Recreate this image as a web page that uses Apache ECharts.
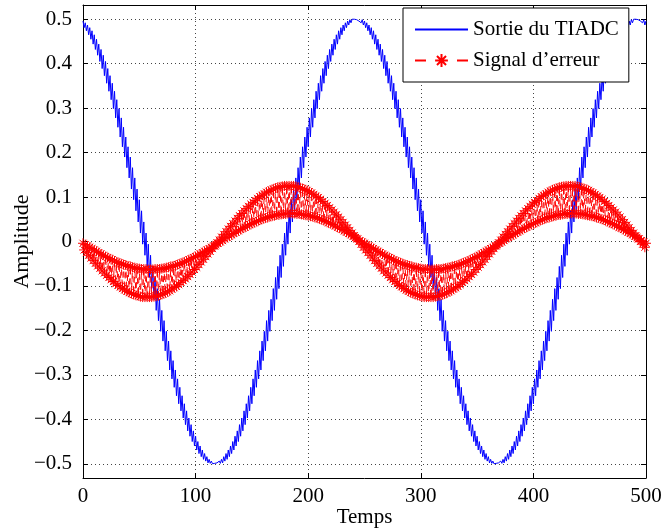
<!DOCTYPE html>
<html><head><meta charset="utf-8">
<script src="https://cdn.jsdelivr.net/npm/echarts@6/dist/echarts.min.js"></script>
<style>html,body{margin:0;padding:0;background:#fff}#c{width:662px;height:532px}</style>
</head><body><div id="c"></div>
<script>
// Axis ticks
const xTicks = [0, 100, 200, 300, 400, 500];
const yTicks = [-0.5, -0.4, -0.3, -0.2, -0.1, 0, 0.1, 0.2, 0.3, 0.4, 0.5];
const seriesNames = ['Sortie du TIADC', 'Signal d\u2019erreur'];
const axisNames = { x: 'Temps', y: 'Amplitude' };

// Sortie du TIADC, samples 0..500
const tiadc = [
.496,.481,.492,.474,.487,.465,.481,.455,.474,.444,
.465,.432,.455,.419,.444,.405,.432,.389,.419,.373,
.405,.356,.389,.338,.373,.319,.356,.299,.338,.278,
.319,.257,.299,.235,.278,.213,.257,.190,.235,.166,
.213,.143,.190,.118,.166,.094,.143,.069,.118,.044,
.094,.019,.069,-.006,.044,-.031,.019,-.056,-.006,-.081,
-.031,-.106,-.056,-.130,-.081,-.155,-.106,-.178,-.130,-.202,
-.155,-.224,-.178,-.246,-.202,-.268,-.224,-.289,-.246,-.309,
-.268,-.328,-.289,-.347,-.309,-.365,-.328,-.381,-.347,-.397,
-.365,-.412,-.381,-.426,-.397,-.438,-.412,-.450,-.426,-.460,
-.438,-.469,-.450,-.477,-.460,-.484,-.469,-.490,-.477,-.494,
-.484,-.498,-.490,-.499,-.494,-.500,-.498,-.499,-.499,-.498,
-.500,-.494,-.499,-.490,-.498,-.484,-.494,-.477,-.490,-.469,
-.484,-.460,-.477,-.450,-.469,-.438,-.460,-.426,-.450,-.412,
-.438,-.397,-.426,-.381,-.412,-.365,-.397,-.347,-.381,-.328,
-.365,-.309,-.347,-.289,-.328,-.268,-.309,-.246,-.289,-.224,
-.268,-.202,-.246,-.178,-.224,-.155,-.202,-.130,-.178,-.106,
-.155,-.081,-.130,-.056,-.106,-.031,-.081,-.006,-.056,.019,
-.031,.044,-.006,.069,.019,.094,.044,.118,.069,.143,
.094,.166,.118,.190,.143,.213,.166,.235,.190,.257,
.213,.278,.235,.299,.257,.319,.278,.338,.299,.356,
.319,.373,.338,.389,.356,.405,.373,.419,.389,.432,
.405,.444,.419,.455,.432,.465,.444,.474,.455,.481,
.465,.487,.474,.492,.481,.496,.487,.499,.492,.500,
.496,.500,.499,.499,.500,.496,.500,.492,.499,.487,
.496,.481,.492,.474,.487,.465,.481,.455,.474,.444,
.465,.432,.455,.419,.444,.405,.432,.389,.419,.373,
.405,.356,.389,.338,.373,.319,.356,.299,.338,.278,
.319,.257,.299,.235,.278,.213,.257,.190,.235,.166,
.213,.143,.190,.118,.166,.094,.143,.069,.118,.044,
.094,.019,.069,-.006,.044,-.031,.019,-.056,-.006,-.081,
-.031,-.106,-.056,-.130,-.081,-.155,-.106,-.178,-.130,-.202,
-.155,-.224,-.178,-.246,-.202,-.268,-.224,-.289,-.246,-.309,
-.268,-.328,-.289,-.347,-.309,-.365,-.328,-.381,-.347,-.397,
-.365,-.412,-.381,-.426,-.397,-.438,-.412,-.450,-.426,-.460,
-.438,-.469,-.450,-.477,-.460,-.484,-.469,-.490,-.477,-.494,
-.484,-.498,-.490,-.499,-.494,-.500,-.498,-.499,-.499,-.498,
-.500,-.494,-.499,-.490,-.498,-.484,-.494,-.477,-.490,-.469,
-.484,-.460,-.477,-.450,-.469,-.438,-.460,-.426,-.450,-.412,
-.438,-.397,-.426,-.381,-.412,-.365,-.397,-.347,-.381,-.328,
-.365,-.309,-.347,-.289,-.328,-.268,-.309,-.246,-.289,-.224,
-.268,-.202,-.246,-.178,-.224,-.155,-.202,-.130,-.178,-.106,
-.155,-.081,-.130,-.056,-.106,-.031,-.081,-.006,-.056,.019,
-.031,.044,-.006,.069,.019,.094,.044,.118,.069,.143,
.094,.166,.118,.190,.143,.213,.166,.235,.190,.257,
.213,.278,.235,.299,.257,.319,.278,.338,.299,.356,
.319,.373,.338,.389,.356,.405,.373,.419,.389,.432,
.405,.444,.419,.455,.432,.465,.444,.474,.455,.481,
.465,.487,.474,.492,.481,.496,.487,.499,.492,.500,
.496,.500,.499,.499,.500,.496,.500,.492,.499,.487,
.496
];

// Signal d'erreur, samples 0..500
const erreur = [
-.004,-.019,-.007,-.025,-.010,-.031,-.013,-.037,-.016,-.043,
-.019,-.049,-.022,-.055,-.025,-.060,-.028,-.066,-.031,-.071,
-.034,-.076,-.036,-.081,-.039,-.086,-.041,-.090,-.044,-.095,
-.046,-.099,-.048,-.102,-.050,-.106,-.052,-.109,-.053,-.112,
-.055,-.115,-.056,-.117,-.058,-.119,-.059,-.121,-.060,-.122,
-.061,-.124,-.062,-.125,-.062,-.125,-.062,-.125,-.063,-.125,
-.063,-.125,-.063,-.124,-.062,-.123,-.062,-.122,-.062,-.120,
-.061,-.118,-.060,-.116,-.059,-.113,-.058,-.111,-.056,-.107,
-.055,-.104,-.054,-.101,-.052,-.097,-.050,-.092,-.048,-.088,
-.046,-.084,-.044,-.079,-.041,-.074,-.039,-.069,-.036,-.063,
-.034,-.058,-.031,-.052,-.028,-.046,-.025,-.040,-.022,-.034,
-.019,-.028,-.016,-.022,-.013,-.016,-.010,-.010,-.007,-.003,
-.004,.003,-.001,.010,.002,.016,.006,.022,.009,.028,
.012,.034,.015,.040,.018,.046,.021,.052,.024,.058,
.027,.063,.030,.069,.032,.074,.035,.079,.038,.084,
.040,.088,.042,.092,.045,.097,.047,.101,.049,.104,
.051,.107,.053,.111,.054,.113,.056,.116,.057,.118,
.058,.120,.060,.122,.060,.123,.061,.124,.062,.125,
.062,.125,.063,.125,.063,.125,.063,.125,.063,.124,
.062,.122,.062,.121,.061,.119,.060,.117,.059,.115,
.058,.112,.057,.109,.056,.106,.054,.102,.053,.099,
.051,.095,.049,.090,.047,.086,.045,.081,.042,.076,
.040,.071,.038,.066,.035,.060,.032,.055,.030,.049,
.027,.043,.024,.037,.021,.031,.018,.025,.015,.019,
.012,.013,.009,.006,.006,.000,.002,-.006,-.001,-.013,
-.004,-.019,-.007,-.025,-.010,-.031,-.013,-.037,-.016,-.043,
-.019,-.049,-.022,-.055,-.025,-.060,-.028,-.066,-.031,-.071,
-.034,-.076,-.036,-.081,-.039,-.086,-.041,-.090,-.044,-.095,
-.046,-.099,-.048,-.102,-.050,-.106,-.052,-.109,-.053,-.112,
-.055,-.115,-.056,-.117,-.058,-.119,-.059,-.121,-.060,-.122,
-.061,-.124,-.062,-.125,-.062,-.125,-.062,-.125,-.063,-.125,
-.063,-.125,-.063,-.124,-.062,-.123,-.062,-.122,-.062,-.120,
-.061,-.118,-.060,-.116,-.059,-.113,-.058,-.111,-.056,-.107,
-.055,-.104,-.054,-.101,-.052,-.097,-.050,-.092,-.048,-.088,
-.046,-.084,-.044,-.079,-.041,-.074,-.039,-.069,-.036,-.063,
-.034,-.058,-.031,-.052,-.028,-.046,-.025,-.040,-.022,-.034,
-.019,-.028,-.016,-.022,-.013,-.016,-.010,-.010,-.007,-.003,
-.004,.003,-.001,.010,.002,.016,.006,.022,.009,.028,
.012,.034,.015,.040,.018,.046,.021,.052,.024,.058,
.027,.063,.030,.069,.032,.074,.035,.079,.038,.084,
.040,.088,.042,.092,.045,.097,.047,.101,.049,.104,
.051,.107,.053,.111,.054,.113,.056,.116,.057,.118,
.058,.120,.060,.122,.060,.123,.061,.124,.062,.125,
.062,.125,.063,.125,.063,.125,.063,.125,.063,.124,
.062,.122,.062,.121,.061,.119,.060,.117,.059,.115,
.058,.112,.057,.109,.056,.106,.054,.102,.053,.099,
.051,.095,.049,.090,.047,.086,.045,.081,.042,.076,
.040,.071,.038,.066,.035,.060,.032,.055,.030,.049,
.027,.043,.024,.037,.021,.031,.018,.025,.015,.019,
.012,.013,.009,.006,.006,.000,.002,-.006,-.001,-.013,
-.004
];

const FONT = '"Liberation Serif", "Times New Roman", serif';
const FS = 21;
const STAR = 'path://M5,0L5,10M0,5L10,5M1.46,1.46L8.54,8.54M1.46,8.54L8.54,1.46';
const gridLine = { show: true, lineStyle: { color: '#444', type: [1, 3], width: 1 } };
const fmtY = v => (Math.abs(v) < 1e-9 ? '0' : v.toFixed(1).replace('-', '\u2212'));
const frameLine = { show: true, onZero: false, lineStyle: { color: '#000', width: 1 } };

const chart = echarts.init(document.getElementById('c'), null, { renderer: 'canvas' });
chart.setOption({
  animation: false,
  backgroundColor: '#fff',
  grid: { left: 83, right: 16, top: 5, bottom: 54, containLabel: false, outerBoundsMode: 'none' },
  xAxis: [
    {
      type: 'value', min: xTicks[0], max: xTicks[xTicks.length - 1], interval: 100,
      position: 'bottom',
      name: axisNames.x, nameLocation: 'middle', nameGap: 29, nameMoveOverlap: false,
      nameTextStyle: { fontFamily: FONT, fontSize: FS, color: '#000' },
      axisLine: frameLine,
      axisTick: { show: true, inside: true, length: 5, lineStyle: { color: '#000' } },
      axisLabel: { show: true, margin: 8, fontFamily: FONT, fontSize: FS, color: '#000' },
      splitLine: gridLine
    },
    {
      type: 'value', min: xTicks[0], max: xTicks[xTicks.length - 1], interval: 100,
      position: 'top',
      axisLine: frameLine,
      axisTick: { show: true, inside: true, length: 5, lineStyle: { color: '#000' } },
      axisLabel: { show: false }, splitLine: { show: false }
    }
  ],
  yAxis: [
    {
      type: 'value', min: -0.532, max: 0.532, position: 'left',
      name: axisNames.y, nameLocation: 'middle', nameGap: 50, nameMoveOverlap: false,
      nameTextStyle: { fontFamily: FONT, fontSize: 22, color: '#000' },
      axisLine: frameLine,
      axisTick: { show: true, inside: true, length: 5, lineStyle: { color: '#000' }, customValues: yTicks },
      axisLabel: { show: true, margin: 11, fontFamily: FONT, fontSize: FS, color: '#000', customValues: yTicks, formatter: fmtY },
      splitLine: gridLine
    },
    {
      type: 'value', min: -0.532, max: 0.532, position: 'right',
      axisLine: frameLine,
      axisTick: { show: true, inside: true, length: 5, lineStyle: { color: '#000' }, customValues: yTicks },
      axisLabel: { show: false }, splitLine: { show: false }
    }
  ],
  legend: {
    orient: 'vertical', left: 403, top: 8,
    backgroundColor: '#fff', borderColor: '#000', borderWidth: 1, borderRadius: 0,
    padding: [11, 10, 11, 11], itemGap: 10, itemWidth: 53, itemHeight: 16,
    textStyle: { fontFamily: FONT, fontSize: FS, color: '#000' },
    data: [
      { name: seriesNames[0], itemStyle: { opacity: 0 } },
      { name: seriesNames[1], lineStyle: { type: [11, 31] } }
    ]
  },
  series: [
    {
      name: seriesNames[0], type: 'line', symbol: 'none',
      data: tiadc.map((v, i) => [i, v]),
      lineStyle: { color: '#0000ff', width: 1 },
      itemStyle: { color: '#0000ff' }
    },
    {
      name: seriesNames[1], type: 'line',
      symbol: STAR, symbolSize: 10, showSymbol: true, showAllSymbol: true,
      data: erreur.map((v, i) => [i, v]),
      lineStyle: { color: '#ff0000', width: 1, type: [6, 4] },
      itemStyle: { color: '#ff0000', borderColor: '#ff0000', borderWidth: 1 }
    }
  ]
});
</script>
</body></html>
